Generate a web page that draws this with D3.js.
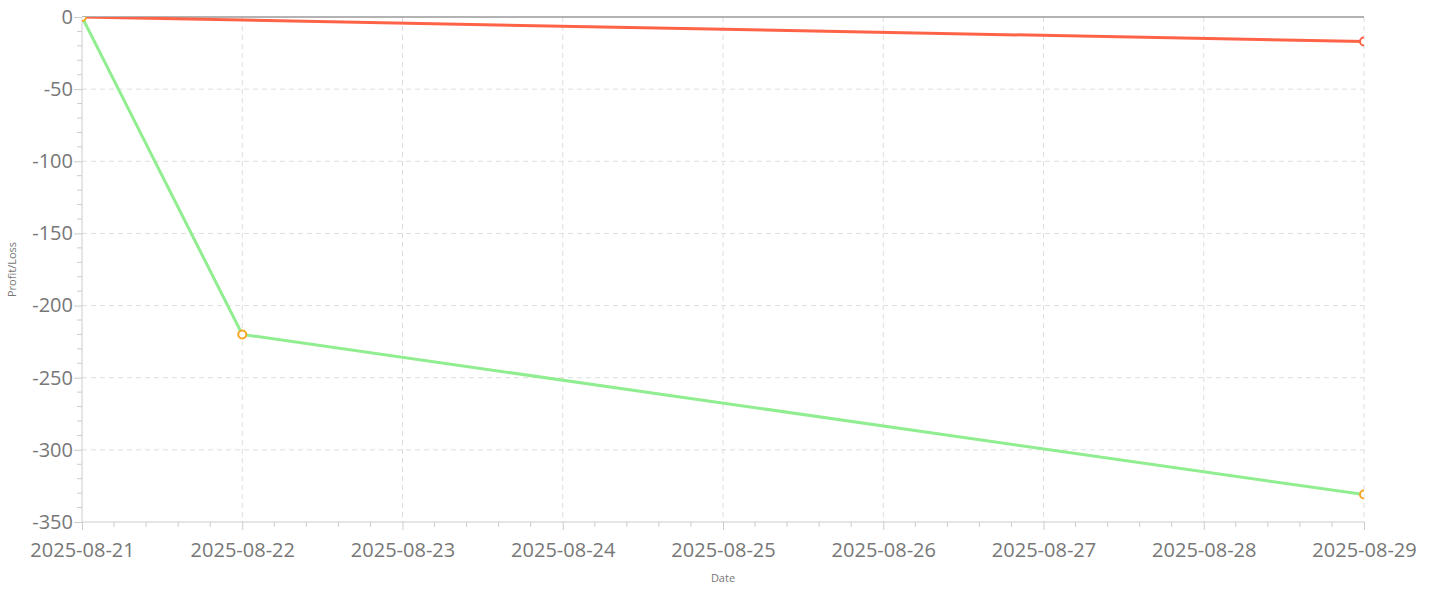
<!DOCTYPE html>
<html>
<head>
<meta charset="utf-8">
<script src="https://cdnjs.cloudflare.com/ajax/libs/d3/7.8.5/d3.min.js"></script>
<style>
  body { margin: 0; background: #fff; }
  #chart { width: 1440px; height: 591px; }
  .tick text { font-family: "Open Sans", sans-serif; fill: #777; }
  .axisTitle { font-family: "Open Sans", sans-serif; fill: #777; }
</style>
</head>
<body>
<div id="chart"></div>
<script>
var dates = ["2025-08-21", "2025-08-29"];
var datesGreen = ["2025-08-21", "2025-08-22", "2025-08-29"];
var redValues = [0, -17];
var greenValues = [0, -220, -331];
var yTicks = [0, -50, -100, -150, -200, -250, -300, -350];

var parse = d3.timeParse("%Y-%m-%d");

var redData = dates.map(function(d, i) { return {date: parse(d), value: redValues[i]}; });
var greenData = datesGreen.map(function(d, i) { return {date: parse(d), value: greenValues[i]}; });

var margin = {top: 17, right: 76, bottom: 69, left: 82},
    width = 1440,
    height = 591,
    chartWidth = width - margin.left - margin.right,
    chartHeight = height - margin.top - margin.bottom;

var x = d3.scaleTime()
    .domain([parse("2025-08-21"), parse("2025-08-29")])
    .range([0, chartWidth]);

var y = d3.scaleLinear()
    .domain([-350, 0])
    .range([chartHeight, 0]);

var svg = d3.select("#chart").append("svg")
    .attr("width", width)
    .attr("height", height);

svg.append("defs").append("clipPath")
    .attr("id", "clip")
    .append("rect")
    .attr("width", chartWidth)
    .attr("height", chartHeight);

var g = svg.append("g").attr("transform", "translate(" + margin.left + "," + margin.top + ")");

var dayTicks = d3.timeDay.range(parse("2025-08-21"), d3.timeDay.offset(parse("2025-08-29"), 1));

// grid
g.append("g").selectAll("line")
    .data(yTicks.filter(function(t) { return t != 0 && t != -350; }))
    .enter().append("line")
    .attr("x1", 0).attr("x2", chartWidth)
    .attr("y1", function(d) { return y(d); }).attr("y2", function(d) { return y(d); })
    .attr("stroke", "#dedede").attr("stroke-dasharray", "5,4");

g.append("g").selectAll("line")
    .data(dayTicks.slice(1))
    .enter().append("line")
    .attr("y1", 0).attr("y2", chartHeight)
    .attr("x1", function(d) { return x(d); }).attr("x2", function(d) { return x(d); })
    .attr("stroke", "#dedede").attr("stroke-dasharray", "5,4");

// minor ticks
var minorX = [];
for (var i = 0; i < 8 * 5; i++) {
  if (i % 5 != 0) minorX.push(new Date(parse("2025-08-21").getTime() + i * 864e5 / 5));
}
g.append("g").selectAll("line")
    .data(minorX)
    .enter().append("line")
    .attr("x1", function(d) { return x(d); }).attr("x2", function(d) { return x(d); })
    .attr("y1", chartHeight).attr("y2", chartHeight + 5)
    .attr("stroke", "#ccc");

var minorY = d3.range(-350, 0, 10).filter(function(v) { return v % 50 != 0; });
g.append("g").selectAll("line")
    .data(minorY)
    .enter().append("line")
    .attr("y1", function(d) { return y(d); }).attr("y2", function(d) { return y(d); })
    .attr("x1", 0).attr("x2", -5)
    .attr("stroke", "#ccc");

// axes
var xAxis = g.append("g")
    .attr("transform", "translate(0," + chartHeight + ")")
    .call(d3.axisBottom(x).tickValues(dayTicks).tickFormat(d3.timeFormat("%Y-%m-%d")).tickSize(8).tickPadding(13));

var yAxis = g.append("g")
    .call(d3.axisLeft(y).tickValues(yTicks).tickFormat(function(d) { return String(d); }).tickSize(8).tickPadding(1));

[xAxis, yAxis].forEach(function(a) {
  a.select(".domain").attr("stroke", "#ccc");
  a.selectAll(".tick line").attr("stroke", "#ccc");
  a.selectAll(".tick text").style("font-size", "20px");
});
xAxis.select(".domain").attr("d", "M0,0H" + chartWidth);
yAxis.select(".domain").attr("d", "M0,0V" + chartHeight);

// zero line
g.append("line")
    .attr("x1", 0).attr("x2", chartWidth)
    .attr("y1", y(0)).attr("y2", y(0))
    .attr("stroke", "#666").attr("stroke-width", 1);

var line = d3.line()
    .x(function(d) { return x(d.date); })
    .y(function(d) { return y(d.value); });

var plot = g.append("g").attr("clip-path", "url(#clip)");

plot.append("path")
    .datum(greenData)
    .attr("d", line)
    .attr("fill", "none")
    .attr("stroke", "#90ee90")
    .attr("stroke-width", 3);

plot.append("path")
    .datum(redData)
    .attr("d", line)
    .attr("fill", "none")
    .attr("stroke", "#ff6347")
    .attr("stroke-width", 3);

plot.selectAll(".gdot")
    .data(greenData)
    .enter().append("circle")
    .attr("class", "gdot")
    .attr("cx", function(d) { return x(d.date); })
    .attr("cy", function(d) { return y(d.value); })
    .attr("r", 4)
    .attr("fill", "#fff")
    .attr("stroke", "#f5a623")
    .attr("stroke-width", 2);

plot.selectAll(".rdot")
    .data(redData.slice(1))
    .enter().append("circle")
    .attr("class", "rdot")
    .attr("cx", function(d) { return x(d.date); })
    .attr("cy", function(d) { return y(d.value); })
    .attr("r", 4)
    .attr("fill", "#fff")
    .attr("stroke", "#ff6347")
    .attr("stroke-width", 2);

// titles
svg.append("text")
    .attr("class", "axisTitle")
    .attr("x", margin.left + chartWidth / 2)
    .attr("y", 582)
    .attr("text-anchor", "middle")
    .style("font-size", "11px")
    .text("Date");

svg.append("text")
    .attr("class", "axisTitle")
    .attr("transform", "translate(16," + (margin.top + chartHeight / 2) + ") rotate(-90)")
    .attr("text-anchor", "middle")
    .style("font-size", "11px")
    .text("Profit/Loss");
</script>
</body>
</html>
